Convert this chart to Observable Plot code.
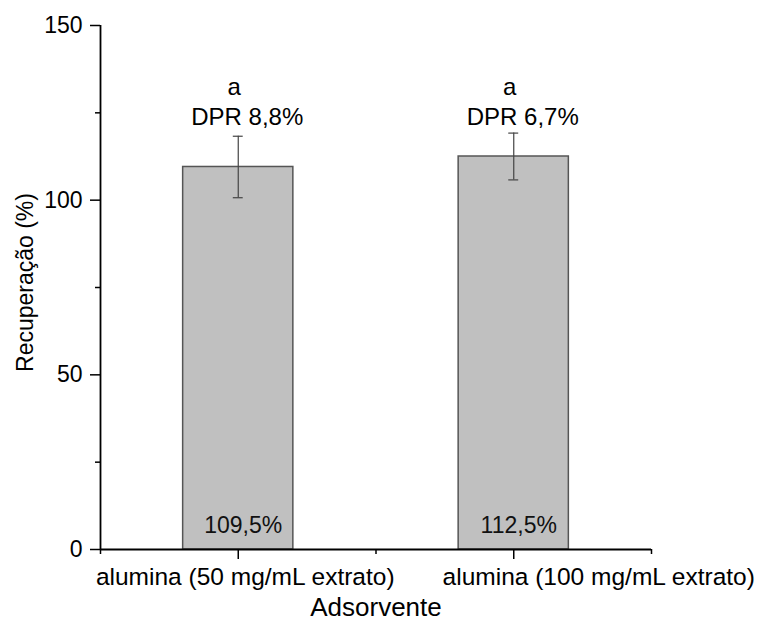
<!DOCTYPE html>
<html>
<head>
<meta charset="utf-8">
<script src="https://cdn.jsdelivr.net/npm/d3@7"></script>
<script src="https://cdn.jsdelivr.net/npm/@observablehq/plot@0.6"></script>
<style>
  html, body { margin: 0; padding: 0; background: #fff; }
</style>
</head>
<body>
<div id="chart"></div>
<script>
// Recuperação por adsorvente
const categories = ["alumina (50 mg/mL extrato)", "alumina (100 mg/mL extrato)"];
const recovery = [109.5, 112.5];   // %
const rsd = [8.8, 6.7];            // DPR, %
const groups = ["a", "a"];
const yTicks = [0, 50, 100, 150];
const yMinorTicks = [25, 75, 125];

const fmt = v => v.toFixed(1).replace(".", ",");

// each category sits in the middle of a unit slot on a linear x scale
const rows = categories.map((c, i) => ({
  name: c, pos: i + 0.5, v: recovery[i], e: rsd[i], g: groups[i]
}));
const slotTicks = d3.range(categories.length + 1);
const halfBar = 0.2;
const halfCap = 0.018;

const font = "'Liberation Sans', Arial, Helvetica, sans-serif";

const chart = Plot.plot({
  width: 758,
  height: 623,
  marginLeft: 100,
  marginRight: 107,
  marginTop: 25,
  marginBottom: 74,
  x: {domain: [0, categories.length], axis: null},
  y: {domain: [0, 150], axis: null},
  style: {fontFamily: font, color: "#000", background: "#fff", overflow: "visible"},
  marks: [
    // bars
    Plot.rectY(rows, {
      x1: d => d.pos - halfBar, x2: d => d.pos + halfBar,
      y1: 0, y2: "v",
      fill: "#c0c0c0", stroke: "#555", strokeWidth: 1.5
    }),
    // error bars (± DPR)
    Plot.ruleX(rows, {x: "pos", y1: d => d.v - d.e, y2: d => d.v + d.e, stroke: "#444", strokeWidth: 1.2}),
    Plot.ruleY(rows, {y: d => d.v + d.e, x1: d => d.pos - halfCap, x2: d => d.pos + halfCap, stroke: "#444", strokeWidth: 1.2}),
    Plot.ruleY(rows, {y: d => d.v - d.e, x1: d => d.pos - halfCap, x2: d => d.pos + halfCap, stroke: "#444", strokeWidth: 1.2}),

    // y axis
    Plot.axisY({ticks: yTicks, tickSize: 10, tickPadding: 8, fontSize: 23, label: null, strokeWidth: 1.5}),
    Plot.axisY({ticks: yMinorTicks, tickSize: 5, tickFormat: () => "", label: null, strokeWidth: 1.5}),
    Plot.ruleX([0], {stroke: "#000", strokeWidth: 1.8}),

    // x axis
    Plot.axisX({ticks: rows.map(d => d.pos), tickSize: 10, tickFormat: () => "", label: null, strokeWidth: 1.5}),
    Plot.axisX({ticks: slotTicks, tickSize: 5, tickFormat: () => "", label: null, strokeWidth: 1.5}),
    Plot.ruleY([0], {stroke: "#000", strokeWidth: 1.8}),

    // category labels
    Plot.text([rows[0]], {x: "pos", text: "name", frameAnchor: "bottom", lineAnchor: "middle", dy: 28, dx: 7, fontSize: 24.5, fill: "#000"}),
    Plot.text([rows[1]], {x: "pos", text: "name", frameAnchor: "bottom", lineAnchor: "middle", dy: 28, dx: 85, fontSize: 24.5, fill: "#000"}),

    // axis titles
    Plot.text(["Adsorvente"], {frameAnchor: "bottom", lineAnchor: "middle", dy: 58, fontSize: 26, fill: "#000"}),
    Plot.text(["Recuperação (%)"], {frameAnchor: "left", textAnchor: "middle", lineAnchor: "middle", rotate: -90, dx: -75, dy: -5, fontSize: 23, fill: "#000"}),

    // value labels inside bars
    Plot.text(rows, {x: "pos", y: 0, text: d => `${fmt(d.v)}%`, lineAnchor: "middle", dy: -24, dx: 5, fontSize: 23, fill: "#111"}),

    // group letters and DPR
    Plot.text(rows, {x: "pos", text: "g", frameAnchor: "top", lineAnchor: "middle", dy: 62, dx: -4, fontSize: 24, fill: "#000"}),
    Plot.text(rows, {x: "pos", text: d => `DPR ${fmt(d.e)}%`, frameAnchor: "top", lineAnchor: "middle", dy: 92, dx: 9, fontSize: 24, fill: "#000"})
  ]
});

document.getElementById("chart").appendChild(chart);
</script>
</body>
</html>
